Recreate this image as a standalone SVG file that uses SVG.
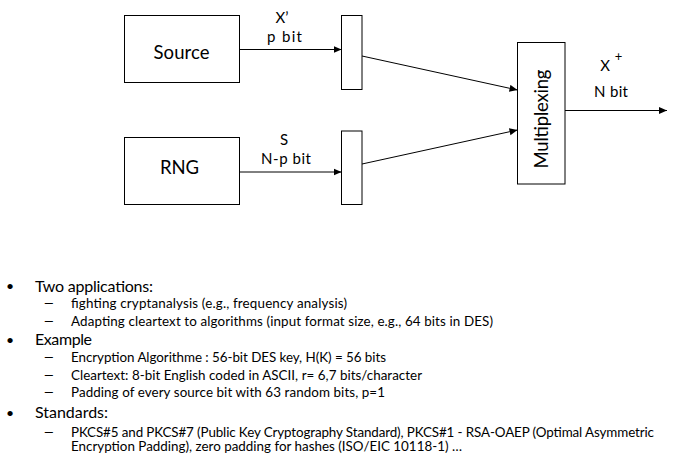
<svg xmlns="http://www.w3.org/2000/svg" width="676" height="460" viewBox="0 0 676 460">
<style>
.box{fill:#fff;stroke:#000;stroke-width:1}
.ln{stroke:#000;stroke-width:1;fill:none}
text{font-family:Lato,"Liberation Sans",sans-serif;fill:#000}
.big{font-size:18.5px}
.lbl{font-size:15px}
.main{font-size:16px}
.sub{font-size:13.4px}
.bul{font-size:14px}
</style>
<defs>
<marker id="ah" markerWidth="9" markerHeight="8" refX="8" refY="4" orient="auto" markerUnits="userSpaceOnUse">
<path d="M0,0.5 L8,4 L0,7.5 Z" fill="#000"/>
</marker>
</defs>
<rect width="676" height="460" fill="#fff"/>
<g id="source"><rect class="box" x="124.5" y="15.5" width="115" height="67"/><text class="big" x="181.5" y="59" text-anchor="middle" textLength="56">Source</text></g>
<g id="rng"><rect class="box" x="124.5" y="137.5" width="115" height="67"/><text class="big" x="179.5" y="174" text-anchor="middle">RNG</text></g>
<g id="buf1"><rect class="box" x="341.5" y="15.5" width="20.5" height="74"/></g>
<g id="buf2"><rect class="box" x="341.5" y="131" width="20.5" height="73.5"/></g>
<g id="mux"><rect class="box" x="517.5" y="42.5" width="47.5" height="141.5"/><text class="big" transform="translate(548,119) rotate(-90)" text-anchor="middle" textLength="99">Multiplexing</text></g>
<g id="connectors">
<line class="ln" x1="240" y1="49.5" x2="341.5" y2="49.5" marker-end="url(#ah)"/>
<line class="ln" x1="240" y1="172" x2="341.5" y2="172" marker-end="url(#ah)"/>
<line class="ln" x1="362" y1="56" x2="517.5" y2="90" marker-end="url(#ah)"/>
<line class="ln" x1="362" y1="164" x2="517.5" y2="130" marker-end="url(#ah)"/>
<line class="ln" x1="565" y1="110.5" x2="667" y2="110.5" marker-end="url(#ah)"/>
</g>
<g id="labels">
<text class="lbl" x="282" y="23" text-anchor="middle">X’</text>
<text class="lbl" x="284.5" y="42" text-anchor="middle" textLength="35">p bit</text>
<text class="lbl" x="284" y="145" text-anchor="middle">S</text>
<text class="lbl" x="286" y="164" text-anchor="middle" textLength="50">N-p bit</text>
<text class="lbl" x="605" y="70.5" text-anchor="middle">X</text>
<text style="font-size:13px" x="618.5" y="61" text-anchor="middle">+</text>
<text class="lbl" x="611" y="96.5" text-anchor="middle" textLength="34">N bit</text>
</g>
<g id="text">
<text class="bul" x="6" y="291">•</text>
<text class="main" x="35" y="291.5" textLength="118">Two applications:</text>
<text class="sub" transform="translate(43,308) scale(1.5,1)">–</text>
<text class="sub" x="71" y="308" textLength="276">fighting cryptanalysis (e.g., frequency analysis)</text>
<text class="sub" transform="translate(43,325.7) scale(1.5,1)">–</text>
<text class="sub" x="71" y="325.7" textLength="422">Adapting cleartext to algorithms (input format size, e.g., 64 bits in DES)</text>
<text class="bul" x="6" y="344.5">•</text>
<text class="main" x="35" y="345" textLength="57">Example</text>
<text class="sub" transform="translate(43,362) scale(1.5,1)">–</text>
<text class="sub" x="71" y="362" textLength="315">Encryption Algorithme : 56-bit DES key, H(K) = 56 bits</text>
<text class="sub" transform="translate(43,379.5) scale(1.5,1)">–</text>
<text class="sub" x="71" y="379.5" textLength="351">Cleartext: 8-bit English coded in ASCII, r= 6,7 bits/character</text>
<text class="sub" transform="translate(43,397) scale(1.5,1)">–</text>
<text class="sub" x="71" y="397" textLength="314">Padding of every source bit with 63 random bits, p=1</text>
<text class="bul" x="6" y="417.8">•</text>
<text class="main" x="35" y="418.3" textLength="73">Standards:</text>
<text class="sub" transform="translate(43,437.3) scale(1.5,1)">–</text>
<text class="sub" x="71" y="437.3" textLength="583">PKCS#5 and PKCS#7 (Public Key Cryptography Standard), PKCS#1 - RSA-OAEP (Optimal Asymmetric</text>
<text class="sub" x="71" y="450.7" textLength="391">Encryption Padding), zero padding for hashes (ISO/EIC 10118-1) …</text>
</g>
</svg>
